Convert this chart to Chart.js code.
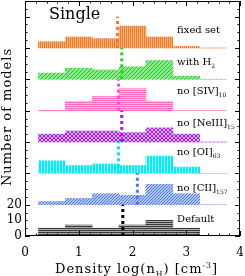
<!DOCTYPE html>
<html>
<head>
<meta charset="utf-8">
<script src="https://cdn.jsdelivr.net/npm/chart.js@4.4.1/dist/chart.umd.min.js"></script>
<style>
html, body { margin: 0; padding: 0; background: #fff; }
#wrap { width: 245px; height: 276px; position: relative; }
</style>
</head>
<body>
<div id="wrap"><canvas id="chart"></canvas></div>
<script>
// histogram bins in log(nH), centres
const binCenters = [0.5, 1.0, 1.5, 2.0, 2.5, 3.0, 3.5];

// number of models in each bin, per model set (top to bottom)
const countsFixedSet = [4, 7, 6, 14, 7, 1, 0];
const countsWithH2   = [4, 7, 6, 8, 12, 2, 0];
const countsNoSIV    = [0, 6, 9, 14, 6, 0, 0];
const countsNoNeIII  = [5, 7, 7, 6, 9, 5, 0];
const countsNoOI     = [8, 5, 6, 5, 11, 4, 0];
const countsNoCII    = [2, 4, 7, 6, 13, 7, 0];
const countsDefault  = [5, 7, 5, 7, 10, 5, 0];

// median density of each set (dotted lines)
const medians = [1.72, 1.80, 1.74, 1.80, 1.74, 2.09, 1.82];

// each histogram is shifted up by this many models
const offsets = [120, 100, 80, 60, 40, 20, 0];

// label text and subscript
const panelLabels = [
    ['fixed set', ''],
    ['with H', '2'],
    ['no [SIV]', '10'],
    ['no [NeIII]', '15'],
    ['no [OI]', '63'],
    ['no [CII]', '157'],
    ['Default', '']
];

const xTickLabels = [0, 1, 2, 3, 4];
const yTickLabels = [0, 10, 20];

const allCounts = [countsFixedSet, countsWithH2, countsNoSIV, countsNoNeIII, countsNoOI, countsNoCII, countsDefault];

// styles
const styles = [
    { kind: 'v', fg: '#f27a25', bg: '#f9b582', line: '#f07a28', zeroBin: 6, zeroDash: [1, 2], zeroColor: '#f9b88a' },
    { kind: 'd', fg: '#1fc81f', bg: '#8ee68e', line: '#2ccc2c', zeroBin: 6, zeroDash: [1, 2], zeroColor: '#a8eaa8' },
    { kind: 'h', fg: '#ff6ab8', bg: '#ffbde0', line: '#ff4fc0', zeroBin: 0, zeroDash: [], zeroColor: '#ff7cc4' },
    { kind: 'x', fg: '#a426ee', bg: '#dca8f7', line: '#a020f0', zeroBin: 6, zeroDash: [1, 2], zeroColor: '#d9a6f5' },
    { kind: 'v3', fg: '#00eeff', bg: '#b0fbff', line: '#00e4ff', zeroBin: -1 },
    { kind: 'd3', fg: '#4a78e6', bg: '#b2c6f6', line: '#4a78e6', zeroBin: 6, zeroDash: [1, 2], zeroColor: '#b2c4f2' },
    { kind: 'h', fg: '#3c3c3c', bg: '#a8a8a8', line: '#000000', zeroBin: -1 }
];

const canvas = document.getElementById('chart');
const ctx0 = canvas.getContext('2d');

function makePattern(kind, fg, bg) {
    const t = document.createElement('canvas');
    let w = 2, h = 2;
    if (kind === 'v3') { w = 3; h = 1; }
    if (kind === 'd' || kind === 'x') { w = 4; h = 4; }
    if (kind === 'd3') { w = 3; h = 3; }
    if (kind === 'v') { w = 2; h = 1; }
    if (kind === 'h') { w = 1; h = 2; }
    t.width = w; t.height = h;
    const c = t.getContext('2d');
    c.fillStyle = bg; c.fillRect(0, 0, w, h);
    c.fillStyle = fg;
    if (kind === 'v') c.fillRect(0, 0, 1, 1);
    if (kind === 'v3') c.fillRect(0, 0, 2, 1);
    if (kind === 'h') c.fillRect(0, 0, 1, 1);
    if (kind === 'd' || kind === 'd3') {
        for (let i = 0; i < w; i++) c.fillRect(i, w - 1 - i, 1, 1);
    }
    if (kind === 'x') {
        for (let i = 0; i < w; i++) { c.fillRect(i, w - 1 - i, 1, 1); c.fillRect(i, i, 1, 1); }
    }
    return ctx0.createPattern(t, 'repeat');
}

const binWidth = binCenters[1] - binCenters[0];
const datasets = [];

allCounts.forEach((counts, p) => {
    const base = offsets[p];
    const st = styles[p];
    // median marker, spans one panel height
    datasets.push({
        type: 'line',
        order: 0,
        data: [{ x: medians[p], y: base }, { x: medians[p], y: base + 20 }],
        borderColor: st.line,
        borderWidth: 3,
        borderDash: [3, 3],
        pointRadius: 0
    });
    if (st.zeroBin >= 0) {
        const c = binCenters[st.zeroBin];
        datasets.push({
            type: 'line',
            order: 1,
            data: [{ x: c - binWidth / 2, y: base }, { x: c + binWidth / 2, y: base }],
            borderColor: st.zeroColor,
            borderWidth: 1,
            borderDash: st.zeroDash,
            pointRadius: 0
        });
    }
    datasets.push({
        type: 'bar',
        order: 2,
        data: binCenters.map((x, i) => ({ x: x, y: [base, base + counts[i]] })),
        backgroundColor: makePattern(st.kind, st.fg, st.bg),
        borderWidth: 0,
        barPercentage: 1,
        categoryPercentage: 1,
        grouped: false
    });
});

function drawRich(ctx, parts, x, y, size, family) {
    for (const [txt, mode] of parts) {
        if (!txt) continue;
        const s = mode ? size * 0.6 : size;
        ctx.font = s + 'px ' + family;
        const dy = mode === 'sub' ? size * 0.28 : mode === 'sup' ? -size * 0.42 : 0;
        ctx.fillText(txt, x, y + dy);
        x += ctx.measureText(txt).width;
    }
}

const labelBaselines = [32.5, 65, 94, 126, 155, 190.7, 222.3];

const decorPlugin = {
    id: 'decor',
    afterDraw(chart) {
        const { ctx, chartArea: a, scales: { x, y } } = chart;
        ctx.save();
        ctx.strokeStyle = '#000';
        ctx.lineWidth = 1;
        ctx.strokeRect(a.left + 0.5, a.top + 0.5, a.right - a.left - 1, a.bottom - a.top - 1);
        ctx.beginPath();
        for (let k = 0; k <= 20; k++) {
            const v = k * 0.2;
            const px = Math.round(x.getPixelForValue(v)) + 0.5;
            const len = k % 5 === 0 ? 5 : 2.5;
            ctx.moveTo(px, a.bottom); ctx.lineTo(px, a.bottom - len);
            ctx.moveTo(px, a.top); ctx.lineTo(px, a.top + len);
        }
        for (let v = 0; v <= 150; v += 5) {
            const py = Math.round(y.getPixelForValue(v)) + 0.5;
            const len = v % 20 === 0 ? 5 : 2.5;
            ctx.moveTo(a.left, py); ctx.lineTo(a.left + len, py);
            ctx.moveTo(a.right, py); ctx.lineTo(a.right - len, py);
        }
        ctx.stroke();

        ctx.fillStyle = '#000';
        ctx.textBaseline = 'alphabetic';
        ctx.textAlign = 'left';
        ctx.font = '16px "DejaVu Serif"';
        ctx.fillText('Single', 49, 19);

        panelLabels.forEach((lab, p) => {
            drawRich(ctx, [[lab[0], ''], [lab[1], 'sub']], x.getPixelForValue(2.83), labelBaselines[p], 10, '"DejaVu Serif"');
        });

        ctx.letterSpacing = '1px';
        drawRich(ctx, [['Density log(n', ''], ['H', 'sub'], [') [cm', ''], ['-3', 'sup'], [']', '']], 55, 273, 13, '"DejaVu Serif"');

        ctx.translate(11, 117);
        ctx.rotate(-Math.PI / 2);
        ctx.textAlign = 'center';
        ctx.font = '13px "DejaVu Serif"';
        ctx.fillText('Number of models', 0, 0);
        ctx.restore();
    }
};

new Chart(canvas, {
    data: { datasets: datasets },
    options: {
        responsive: true,
        maintainAspectRatio: false,
        animation: false,
        layout: { padding: { top: 1, right: 5, left: 0, bottom: 0 } },
        plugins: { legend: { display: false }, tooltip: { enabled: false } },
        scales: {
            x: {
                type: 'linear',
                min: 0,
                max: 4,
                offset: false,
                afterFit: s => { s.height = 40; s.paddingLeft = 0; s.paddingRight = 0; },
                grid: { display: false, drawTicks: false, offset: false },
                border: { display: false },
                ticks: {
                    stepSize: 1,
                    padding: 10,
                    color: '#000',
                    font: { family: 'DejaVu Serif', size: 12 },
                    callback: v => xTickLabels.includes(v) ? String(v) : ''
                }
            },
            y: {
                type: 'linear',
                min: 0,
                max: 150,
                afterFit: s => { s.width = 25; s.paddingTop = 0; s.paddingBottom = 0; },
                grid: { display: false, drawTicks: false },
                border: { display: false },
                ticks: {
                    stepSize: 10,
                    autoSkip: false,
                    padding: 3,
                    color: '#000',
                    font: { family: 'DejaVu Serif', size: 12 },
                    callback: v => yTickLabels.includes(v) ? String(v) : ''
                }
            }
        }
    },
    plugins: [decorPlugin]
});
</script>
</body>
</html>
